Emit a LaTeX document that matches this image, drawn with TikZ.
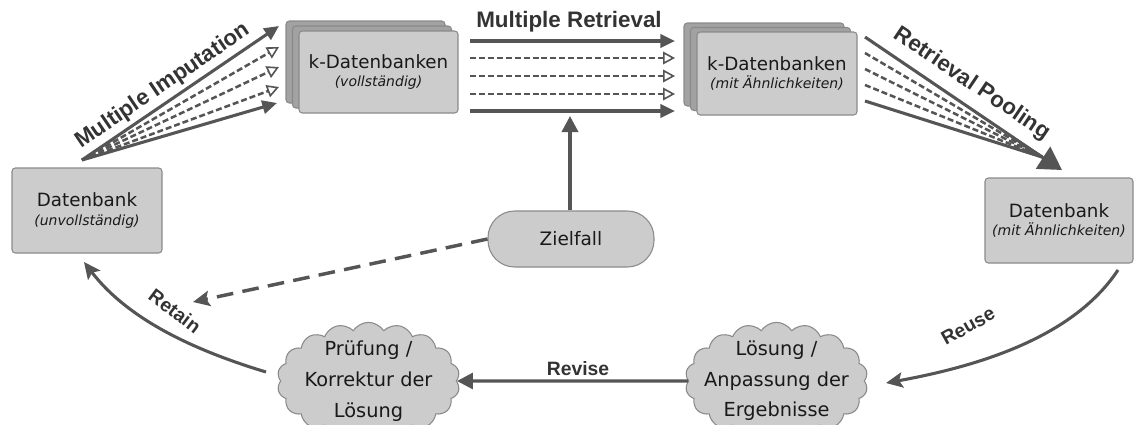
\documentclass[tikz,border=0pt]{standalone}
\usepackage{fontspec}
\setmainfont{DejaVu Sans}[ItalicFont={DejaVu Sans Oblique},BoldFont={DejaVu Sans Bold}]
\newfontfamily\lblfont{Liberation Sans}[BoldFont={Liberation Sans Bold}]
\usetikzlibrary{arrows.meta,shapes.symbols,calc}
\definecolor{boxfill}{HTML}{CCCCCC}
\definecolor{boxdraw}{HTML}{8A8A8A}
\definecolor{backfill}{HTML}{A2A2A2}
\definecolor{arrowc}{HTML}{555555}
\definecolor{lblc}{HTML}{333333}
\tikzset{
  dbbox/.style={draw=boxdraw, fill=boxfill, rounded corners=2.5pt, line width=0.8pt,
    align=center, inner sep=0pt, text=black!90, font=\fontsize{10.5}{14}\selectfont},
  backbox/.style={draw=boxdraw, fill=backfill, rounded corners=2.5pt, line width=0.8pt, inner sep=0pt},
  cloudbox/.style={cloud, cloud puffs=18, cloud puff arc=115, cloud ignores aspect,
    draw=boxdraw, fill=boxfill, line width=0.8pt, inner sep=0pt,
    minimum width=137pt, minimum height=88pt},
  cloudtxt/.style={align=center, text=black!90, font=\fontsize{14.5}{23}\selectfont},
  pill/.style={draw=boxdraw, fill=boxfill, rounded corners=20pt, line width=0.8pt,
    minimum width=124.5pt, minimum height=42pt, inner sep=0pt, text=black!90,
    font=\fontsize{13.9}{16}\selectfont},
  solidline/.style={draw=arrowc, line width=2.3pt},
  dashline/.style={draw=arrowc, line width=1.9pt, dash pattern=on 4.5pt off 2.2pt},
  fullhead/.style={-{Triangle[length=11pt,width=10pt]}},
  openhead/.style={-{Triangle[open,length=9pt,width=9.5pt,fill=white,line width=1.2pt]}},
  curvehead/.style={-{Stealth[length=12.5pt,width=11.5pt,inset=2.5pt]}},
  biglbl/.style={text=lblc, font=\lblfont\bfseries\fontsize{16.8}{18}\selectfont},
  smalllbl/.style={text=lblc, font=\lblfont\bfseries\fontsize{14.5}{16}\selectfont},
}
\begin{document}
\begin{tikzpicture}[x=0.75pt,y=-0.75pt]
\useasboundingbox (0,0) rectangle (1136,425);
\clip (0,0) rectangle (1136,425);

% left database
\node[dbbox, minimum width=112.5pt, minimum height=63.75pt] (dbl) at (87,210.5)
  {{\fontsize{13.7}{16}\selectfont Datenbank}\\\itshape (unvollständig)};

% k-Datenbanken (vollstaendig)
\node[backbox, minimum width=119.25pt, minimum height=61.5pt] (k1b) at (365.5,62) {};
\node[backbox, minimum width=119.25pt, minimum height=61.5pt] (k1m) at (372,67) {};
\node[dbbox, minimum width=119.25pt, minimum height=61.5pt] (k1) at (378.5,72)
  {{\fontsize{13.7}{16}\selectfont k-Datenbanken}\\\itshape (vollständig)};

% k-Datenbanken (mit Aehnlichkeiten)
\node[backbox, minimum width=120pt, minimum height=62.25pt] (k2b) at (764,64.5) {};
\node[backbox, minimum width=120pt, minimum height=62.25pt] (k2m) at (770.5,69) {};
\node[dbbox, minimum width=120pt, minimum height=62.25pt] (k2) at (777,73.5)
  {{\fontsize{13.7}{16}\selectfont k-Datenbanken}\\\itshape (mit Ähnlichkeiten)};

% right database
\node[dbbox, minimum width=111pt, minimum height=63.75pt] (dbr) at (1059,220.5)
  {{\fontsize{13.7}{16}\selectfont Datenbank}\\\itshape (mit Ähnlichkeiten)};

% Zielfall
\node[pill] (ziel) at (571,239) {Zielfall};

% clouds
\node[cloudbox, label={[cloudtxt]center:Prüfung /\\Korrektur der\\Lösung}] (pruef) at (368.5,381) {};
\node[cloudbox, label={[cloudtxt]center:Lösung /\\Anpassung der\\Ergebnisse}] (loes) at (776.5,381) {};

% ---- Multiple Imputation fan
\coordinate (mi) at (82,160);
\coordinate (mi1) at (279,26);
\coordinate (mi2) at (279,47);
\coordinate (mi3) at (279,67);
\coordinate (mi4) at (279,87);
\coordinate (mi5) at (277,103);
\draw[dashline, openhead] (mi) -- (mi2);
\draw[dashline, openhead] (mi) -- (mi3);
\draw[dashline, openhead] (mi) -- (mi4);
\draw[solidline, fullhead] (mi) -- (mi1);
\draw[solidline, fullhead] (mi) -- (mi5);
\node[biglbl, rotate=34.2] (lmi) at (163,86) {Multiple Imputation};

% ---- Multiple Retrieval
\foreach \i/\yy in {1/41,2/58,3/76,4/94,5/111}{
  \coordinate (rs\i) at (470,\yy);
  \coordinate (re\i) at (675,\yy);
}
\draw[dashline, openhead] (rs2) -- (re2);
\draw[dashline, openhead] (rs3) -- (re3);
\draw[dashline, openhead] (rs4) -- (re4);
\draw[solidline, fullhead] (rs1) -- (re1);
\draw[solidline, fullhead] (rs5) -- (re5);
\node[biglbl, anchor=base] (lmr) at (569,27) {Multiple Retrieval};

% ---- Retrieval Pooling
\coordinate (rp) at (1042,157);
\coordinate (rptip) at (1062,170);
\coordinate (rpback) at (1022,144);
\foreach \i/\yy in {1/37,5/101}{ \coordinate (ps\i) at (865,\yy); \draw[solidline] (ps\i) -- (rp); }
\foreach \i/\yy in {2/53,3/69,4/85}{ \coordinate (ps\i) at (865,\yy); \draw[dashline] (ps\i) -- (rp); }
\draw[solidline, -{Triangle[length=17pt,width=19.5pt]}] (rpback) -- (rptip);
\node[biglbl, rotate=-34] (lrp) at (972,84) {Retrieval Pooling};

% ---- Zielfall up arrow
\coordinate (zt) at (570,116);
\draw[solidline, line width=2.6pt, -{Triangle[length=12pt,width=12pt]}] (ziel.north -| zt) -- (zt);

% ---- dashed arrow to left
\coordinate (dt) at (193,302);
\draw[draw=arrowc, line width=2.6pt, dash pattern=on 12.5pt off 7pt, curvehead] (ziel.west) -- (dt);

% ---- Reuse
\coordinate (ru0) at (1118,270);
\coordinate (ru1) at (886,383);
\draw[solidline, curvehead] (ru0) .. controls (1075,335) and (985,365) .. (ru1);
\node[smalllbl, rotate=29] (lru) at (968,326) {Reuse};

% ---- Revise
\draw[solidline, -{Triangle[length=12pt,width=12pt]}] (loes.west) -- (pruef.east);
\node[smalllbl, anchor=base] (lrv) at (578,375) {Revise};

% ---- Retain
\coordinate (rt0) at (266,372);
\coordinate (rt1) at (84,262);
\draw[solidline, curvehead] (rt0) .. controls (200,352) and (130,322) .. (rt1);
\node[smalllbl, rotate=-37] (lrt) at (175,311) {Retain};
\end{tikzpicture}
\end{document}
